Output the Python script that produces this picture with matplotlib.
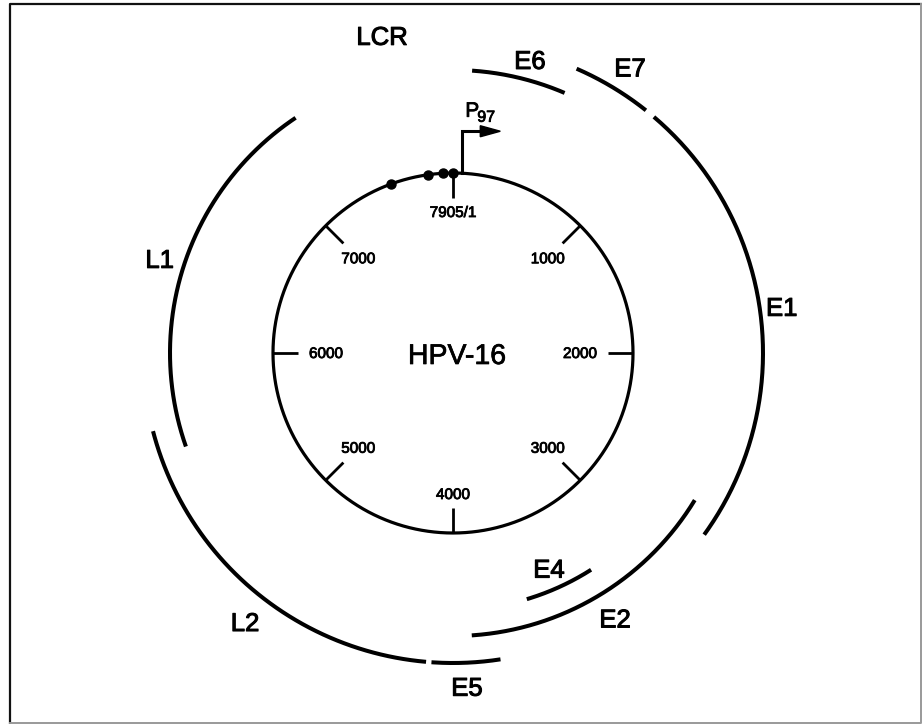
import matplotlib.pyplot as plt
import numpy as np
from matplotlib.patches import Polygon
import matplotlib.patheffects as pe

plt.rcParams['font.family'] = ['Liberation Sans', 'DejaVu Sans']

# genome map data (bp)
genome_len = 7905
genes = ["E6", "E7", "E1", "E2", "E4", "E5", "L2", "L1"]
gene_start = [85, 516, 887, 2664, 3239, 3759, 4062, 5505]
gene_end = [510, 845, 2764, 3869, 3586, 4040, 5608, 7163]
gene_ring = [1, 2, 2, 1, 0, 2, 2, 1]

# scale marks are drawn evenly round the circle in the original
tick_labels = ["7905/1", "1000", "2000", "3000", "4000", "5000", "6000", "7000"]

site_pos = [7465, 7728, 7835, 7903]
promoter_pos = 65
promoter_name = "97"

# layout (pixels)
cx, cy = 453, 353
r_genome = 180
ring_r = [257, 283, 310]
# label placement: (angle deg clockwise from top, radius)
label_at = {"E6": (14.7, 303), "E7": (31.8, 336), "E1": (82, 332),
            "E2": (148.6, 311), "E4": (156, 236), "E5": (177.6, 334),
            "L2": (217.7, 340), "L1": (287.8, 308), "LCR": (347.4, 325)}

heavy = [pe.withStroke(linewidth=0.75, foreground='black')]
heavy_small = [pe.withStroke(linewidth=0.6, foreground='black')]


def polar(deg, r):
    a = np.radians(deg)
    return cx + r * np.sin(a), cy - r * np.cos(a)


def bp2deg(bp):
    return np.asarray(bp) / genome_len * 360.0


fig = plt.figure(figsize=(9.22, 7.24), dpi=100)
ax = fig.add_axes([0, 0, 1, 1])
ax.set_xlim(0, 922)
ax.set_ylim(724, 0)
ax.axis('off')

# frame
ax.plot([10, 10, 921], [723, 4, 4], color='#111111', lw=1.6, solid_capstyle='projecting')
ax.plot([921, 921, 10], [4, 723, 723], color='#999999', lw=1.4)

# genome circle
th = np.linspace(0, 360, 721)
x, y = polar(th, r_genome)
ax.plot(x, y, color='black', lw=2.3)

# ticks + labels
n_ticks = len(tick_labels)
for i, lab in enumerate(tick_labels):
    d = i * 360.0 / n_ticks
    x0, y0 = polar(d, r_genome)
    x1, y1 = polar(d, r_genome - 25)
    ax.plot([x0, x1], [y0, y1], color='black', lw=2.0, solid_capstyle='butt')
    rt = 127 + 14 * np.cos(np.radians(d)) ** 2
    tx, ty = polar(d, rt)
    ax.text(tx, ty + 1, lab, ha='center', va='center', fontsize=11,
            path_effects=heavy_small)

# binding sites on the LCR
sx, sy = polar(bp2deg(site_pos), r_genome)
ax.plot(sx, sy, 'o', color='black', ms=6.5, ls='none')

# gene arcs
for g, s, e, ring in zip(genes, gene_start, gene_end, gene_ring):
    a = np.linspace(bp2deg(s), bp2deg(e), 200)
    x, y = polar(a, ring_r[ring])
    ax.plot(x, y, color='black', lw=2.9, solid_capstyle='butt')

for name, (ang, r) in label_at.items():
    tx, ty = polar(ang, r)
    ax.text(tx, ty + 2, name, ha='center', va='center', fontsize=18.5,
            path_effects=heavy)

# promoter arrow
px, py = polar(bp2deg(promoter_pos), r_genome)
top = py - 42
ax.plot([px, px, px + 20], [py, top, top], color='black', lw=2.2,
        solid_joinstyle='miter')
ax.add_patch(Polygon([[px + 18, top - 5.5], [px + 38, top], [px + 18, top + 5.5]],
                     closed=True, color='black'))
ax.text(px + 3, top - 20, "P", ha='left', va='center', fontsize=15,
        path_effects=heavy_small)
ax.text(px + 15, top - 14, promoter_name, ha='left', va='center', fontsize=11.5,
        path_effects=heavy_small)

ax.text(cx + 4, cy + 4, "HPV-16", ha='center', va='center', fontsize=20.5,
        path_effects=[pe.withStroke(linewidth=0.5, foreground='black')])

fig.savefig("out.png", dpi=100)
